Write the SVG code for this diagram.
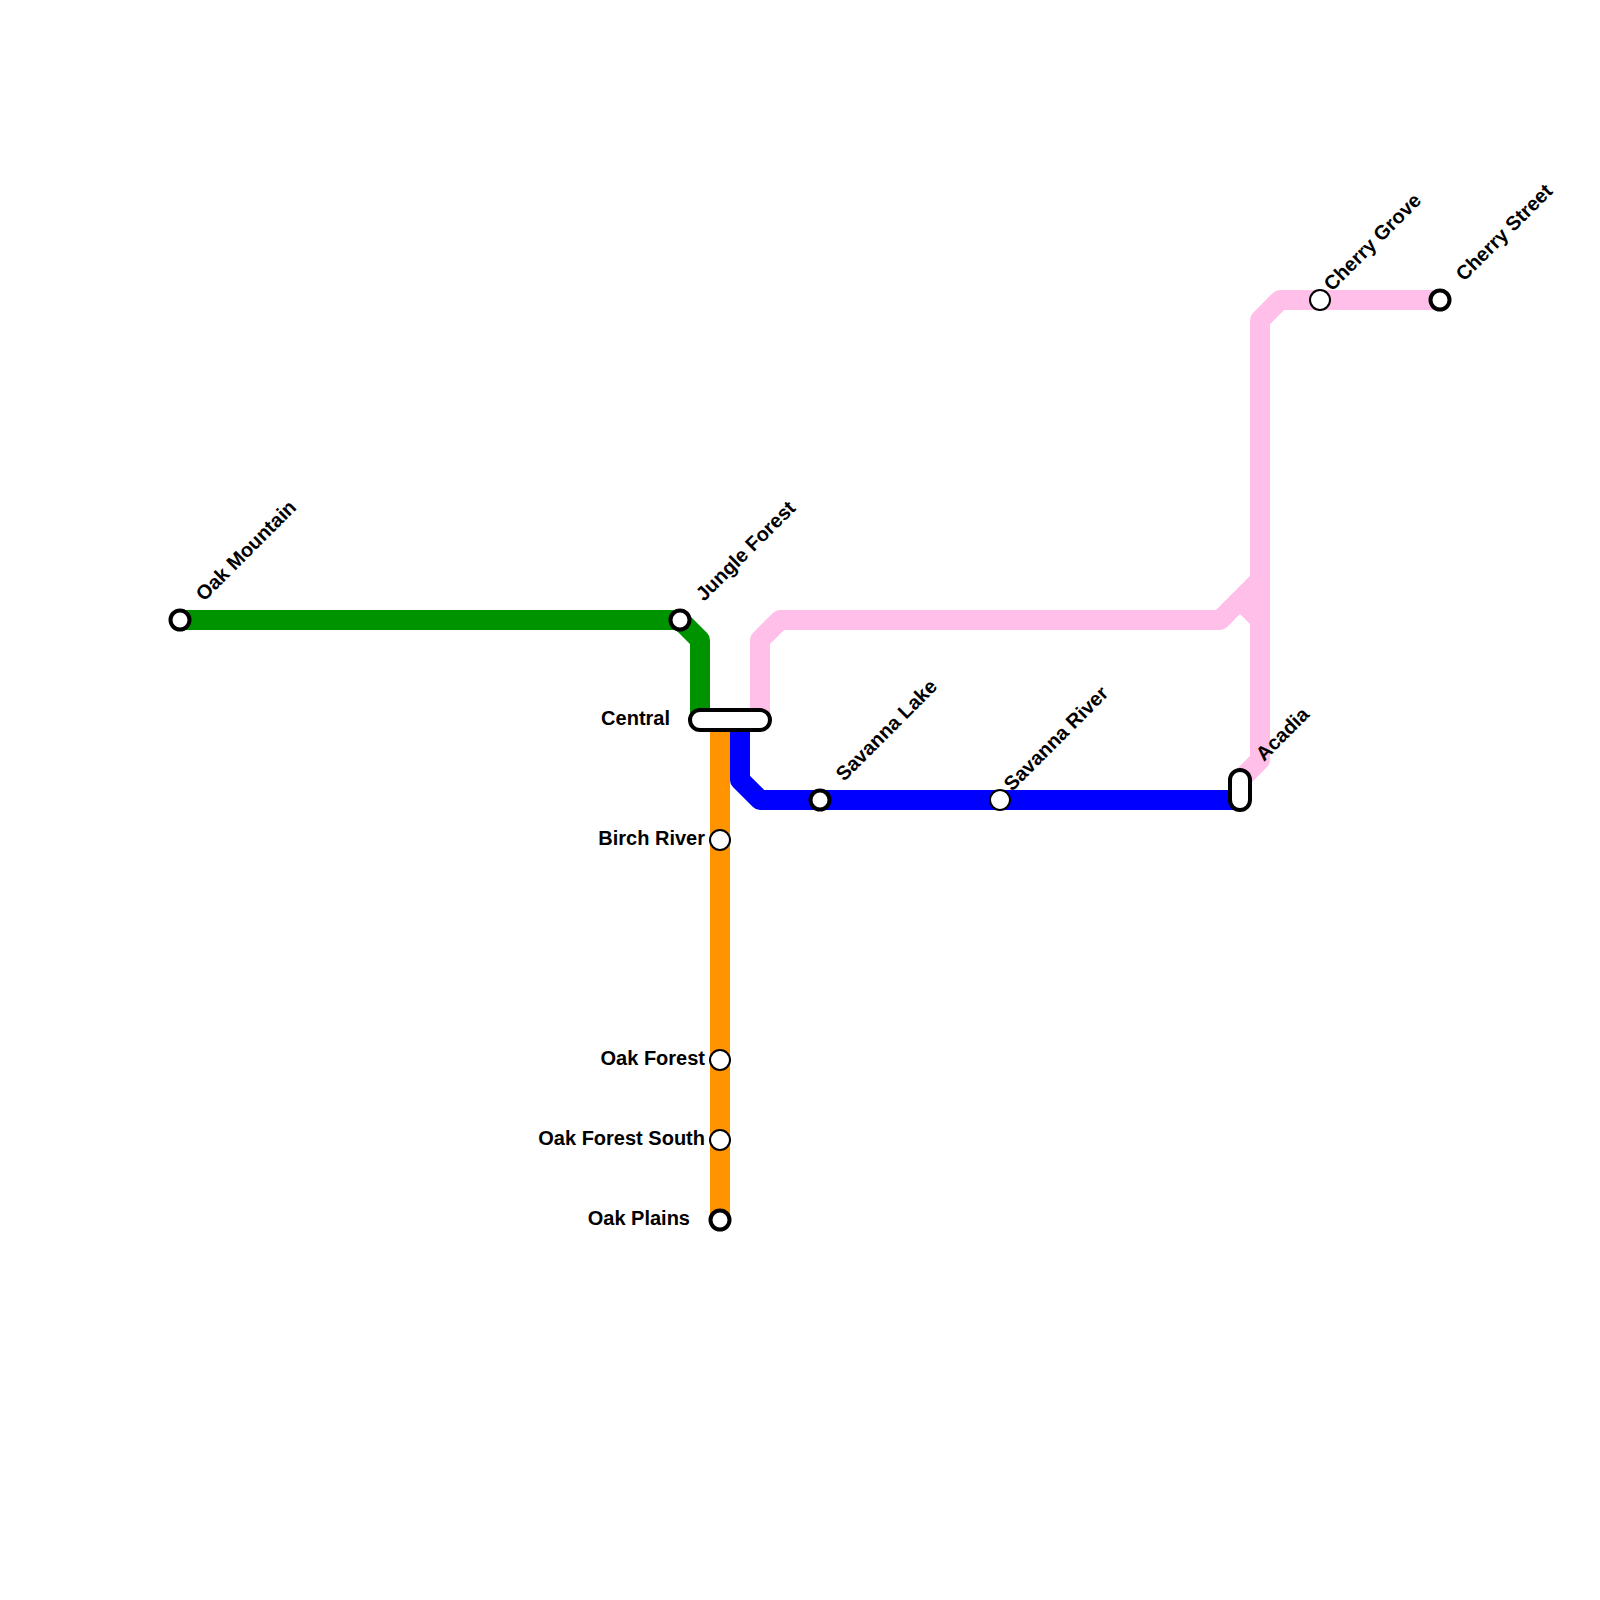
<svg xmlns="http://www.w3.org/2000/svg" width="1600" height="1600" viewBox="0 0 1600 1600">
<style>
.line{fill:none;stroke-width:20;stroke-linejoin:round;stroke-linecap:butt}
.st{fill:#fff;stroke:#000;stroke-width:2}
.term{fill:#fff;stroke:#000;stroke-width:4}
text{font-family:"Liberation Sans",Arial,sans-serif;font-size:20px;font-weight:700;fill:#000}
.r{text-anchor:end}
</style>
<rect width="1600" height="1600" fill="#fff"/>
<g id="connectors">
<path class="line" stroke="#009300" d="M180 620H680L700 640V720"/>
<path class="line" stroke="#ff9300" d="M720 720V1220"/>
<path class="line" stroke="#0000ff" d="M740 720V780L760 800H1240"/>
<path class="line" stroke="#ffbfe9" d="M760 720V640L780 620H1220L1260 580"/>
<path class="line" stroke="#ffbfe9" d="M1240 600L1260 620"/>
<path class="line" stroke="#ffbfe9" d="M1240 780L1260 760V320L1280 300H1440"/>
</g>
<g id="oak-mountain"><circle class="term" cx="180" cy="620" r="9.5"/><text transform="translate(204 602) rotate(-45)">Oak Mountain</text></g>
<g id="jungle-forest"><circle class="term" cx="680" cy="620" r="9.5"/><text transform="translate(704 602) rotate(-45)">Jungle Forest</text></g>
<g id="central"><rect class="term" x="690" y="710" width="80" height="20" rx="10"/><text class="r" x="670" y="725">Central</text></g>
<g id="savanna-lake"><circle class="term" cx="820" cy="800" r="9.5"/><text transform="translate(844 782) rotate(-45)">Savanna Lake</text></g>
<g id="savanna-river"><circle class="st" cx="1000" cy="800" r="10"/><text transform="translate(1012 792) rotate(-45)">Savanna River</text></g>
<g id="acadia"><rect class="term" x="1230" y="770" width="20" height="40" rx="10"/><text transform="translate(1264 762) rotate(-45)">Acadia</text></g>
<g id="cherry-grove"><circle class="st" cx="1320" cy="300" r="10"/><text transform="translate(1332 292) rotate(-45)">Cherry Grove</text></g>
<g id="cherry-street"><circle class="term" cx="1440" cy="300" r="9.5"/><text transform="translate(1464 282) rotate(-45)">Cherry Street</text></g>
<g id="birch-river"><circle class="st" cx="720" cy="840" r="10"/><text class="r" x="705" y="845">Birch River</text></g>
<g id="oak-forest"><circle class="st" cx="720" cy="1060" r="10"/><text class="r" x="705" y="1065">Oak Forest</text></g>
<g id="oak-forest-south"><circle class="st" cx="720" cy="1140" r="10"/><text class="r" x="705" y="1145">Oak Forest South</text></g>
<g id="oak-plains"><circle class="term" cx="720" cy="1220" r="9.5"/><text class="r" x="690" y="1225">Oak Plains</text></g>
</svg>
